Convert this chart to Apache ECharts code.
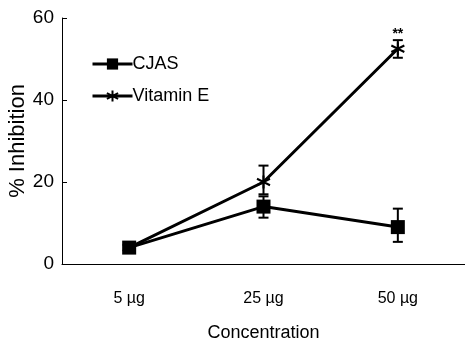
<!DOCTYPE html>
<html><head><meta charset="utf-8">
<script src="https://cdn.jsdelivr.net/npm/echarts@6/dist/echarts.min.js"></script>
<style>html,body{margin:0;padding:0;background:#fff}#c{width:465px;height:345px}</style>
</head><body><div id="c"></div>
<script>
const categories = ['5 µg', '25 µg', '50 µg'];
const cjas = [4, 14, 9];
const cjasLow = [null, 11.3, 5.4];
const cjasHigh = [null, 16.5, 13.5];
const vitE = [4, 20, 52.5];
const vitELow = [null, 17, 50.3];
const vitEHigh = [null, 24, 54.6];
const yTicks = [0, 20, 40, 60];

const SANS = '"Liberation Sans", Arial, sans-serif';
const asterisk = 'path://M5,0L5,10M0.7,2.5L9.3,7.5M0.7,7.5L9.3,2.5';

function errData(low, high) {
  const out = [];
  low.forEach((l, i) => { if (l != null) out.push([i, l, high[i]]); });
  return out;
}
function errRender(params, api) {
  const x = api.value(0);
  const lo = api.coord([x, api.value(1)]);
  const hi = api.coord([x, api.value(2)]);
  const w = 5;
  const st = { stroke: '#000', lineWidth: 2 };
  return { type: 'group', children: [
    { type: 'line', shape: { x1: lo[0], y1: lo[1], x2: hi[0], y2: hi[1] }, style: st },
    { type: 'line', shape: { x1: lo[0]-w, y1: lo[1], x2: lo[0]+w, y2: lo[1] }, style: st },
    { type: 'line', shape: { x1: hi[0]-w, y1: hi[1], x2: hi[0]+w, y2: hi[1] }, style: st }
  ]};
}

const chart = echarts.init(document.getElementById('c'));
chart.setOption({
  animation: false,
  backgroundColor: '#fff',
  grid: { left: 62, right: 0, top: 18, bottom: 81, containLabel: false, outerBoundsMode: 'none' },
  legend: {
    left: 86, top: 50, orient: 'vertical', itemWidth: 40, itemHeight: 14, itemGap: 14,
    lineStyle: { width: 3, color: '#000' },
    textStyle: { fontFamily: SANS, fontSize: 18, color: '#000', padding: [0,0,0,-5] },
    data: ['CJAS', 'Vitamin E']
  },
  xAxis: {
    type: 'category', data: categories, boundaryGap: true,
    axisLine: { lineStyle: { color: '#000', width: 1 } },
    axisTick: { inside: true, length: 6, lineStyle: { color: '#000' } },
    axisLabel: { color: '#000', fontFamily: SANS, fontSize: 16, margin: 27 },
    name: 'Concentration', nameLocation: 'middle', nameGap: 60, nameMoveOverlap: false,
    nameTextStyle: { color: '#000', fontFamily: SANS, fontSize: 18 }
  },
  yAxis: {
    type: 'value', min: yTicks[0], max: yTicks[yTicks.length-1], interval: 20,
    splitLine: { show: false },
    axisLine: { show: true, lineStyle: { color: '#000', width: 1 } },
    axisTick: { show: true, inside: true, length: 5, lineStyle: { color: '#000' } },
    axisLabel: { color: '#000', fontFamily: SANS, fontSize: 19, margin: 8 },
    name: '% Inhibition', nameLocation: 'middle', nameGap: 33, nameRotate: 90, nameMoveOverlap: false,
    nameTextStyle: { color: '#000', fontFamily: SANS, fontSize: 22 }
  },
  series: [
    { name: 'CJAS', type: 'line', data: cjas, symbol: 'rect', symbolSize: 14,
      color: '#000', lineStyle: { color: '#000', width: 3 }, itemStyle: { color: '#000' }, z: 3 },
    { name: 'Vitamin E', type: 'line',
      data: vitE.map((v, i) => i === 2 ? { value: v, label: { show: true, position: 'top', distance: 0, offset: [0, 0], formatter: '**', fontSize: 14, fontWeight: 'bold', color: '#000' } } : v),
      symbol: asterisk, symbolSize: 13, showAllSymbol: true,
      color: '#000', lineStyle: { color: '#000', width: 3 },
      itemStyle: { color: 'rgba(0,0,0,0)', borderColor: '#000', borderWidth: 2 }, z: 2 },
    { type: 'custom', renderItem: errRender, data: errData(cjasLow, cjasHigh), z: 4, silent: true },
    { type: 'custom', renderItem: errRender, data: errData(vitELow, vitEHigh), z: 4, silent: true }
  ]
});
</script></body></html>
